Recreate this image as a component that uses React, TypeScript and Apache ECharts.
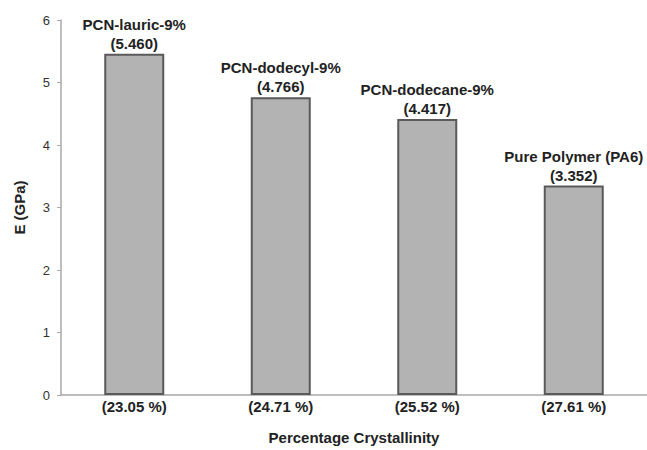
import React, { useEffect, useRef } from "react";
import * as echarts from "echarts";

const materials = ["PCN-lauric-9%", "PCN-dodecyl-9%", "PCN-dodecane-9%", "Pure Polymer (PA6)"];
const crystallinity = ["(23.05 %)", "(24.71 %)", "(25.52 %)", "(27.61 %)"];
const modulus = [5.46, 4.766, 4.417, 3.352];
const yTicks = { min: 0, max: 6, interval: 1 };

export default function App() {
  const ref = useRef<HTMLDivElement>(null);
  useEffect(() => {
    if (!ref.current) return;
    const chart = echarts.init(ref.current, undefined, { renderer: "svg" });
    const font = "Liberation Sans, Arial, sans-serif";
    chart.setOption({
      animation: false,
      backgroundColor: "#ffffff",
      grid: { left: 61, top: 20, width: 592, height: 380, containLabel: false },
      xAxis: {
        type: "category",
        data: crystallinity,
        name: "Percentage Crystallinity",
        nameLocation: "middle",
        nameGap: 35,
        nameTextStyle: { fontFamily: font, fontWeight: "bold", fontSize: 15, color: "#222" },
        axisLine: { lineStyle: { color: "#a8a8a8", width: 1.5 } },
        axisTick: { show: false },
        axisLabel: { margin: 4, fontFamily: font, fontWeight: "bold", fontSize: 15, color: "#222" },
      },
      yAxis: {
        type: "value",
        min: yTicks.min,
        max: yTicks.max,
        interval: yTicks.interval,
        name: "E (GPa)",
        nameLocation: "middle",
        nameGap: 34,
        nameTextStyle: { fontFamily: font, fontWeight: "bold", fontSize: 15, color: "#222" },
        splitLine: { show: false },
        axisLine: { show: true, lineStyle: { color: "#a8a8a8", width: 1.5 } },
        axisTick: { show: true, length: 4, lineStyle: { color: "#a8a8a8" } },
        axisLabel: { margin: 11, fontFamily: font, fontSize: 13, color: "#333" },
      },
      series: [
        {
          type: "bar",
          data: modulus.map((v, i) => ({ value: v, name: materials[i] })),
          barWidth: 60,
          itemStyle: { color: "#b3b3b3", borderColor: "#5a5a5a", borderWidth: 2 },
          label: {
            show: true,
            position: "top",
            distance: 1,
            formatter: (p: any) => `${materials[p.dataIndex]}\n(${modulus[p.dataIndex].toFixed(3)})`,
            fontFamily: font,
            fontWeight: "bold",
            fontSize: 15,
            lineHeight: 19,
            color: "#222",
            align: "center",
          },
        },
      ],
    });
    return () => chart.dispose();
  }, []);
  return (
    <div
      ref={ref}
      style={{ position: "fixed", left: 0, top: 0, width: 647, height: 450 }}
    />
  );
}
